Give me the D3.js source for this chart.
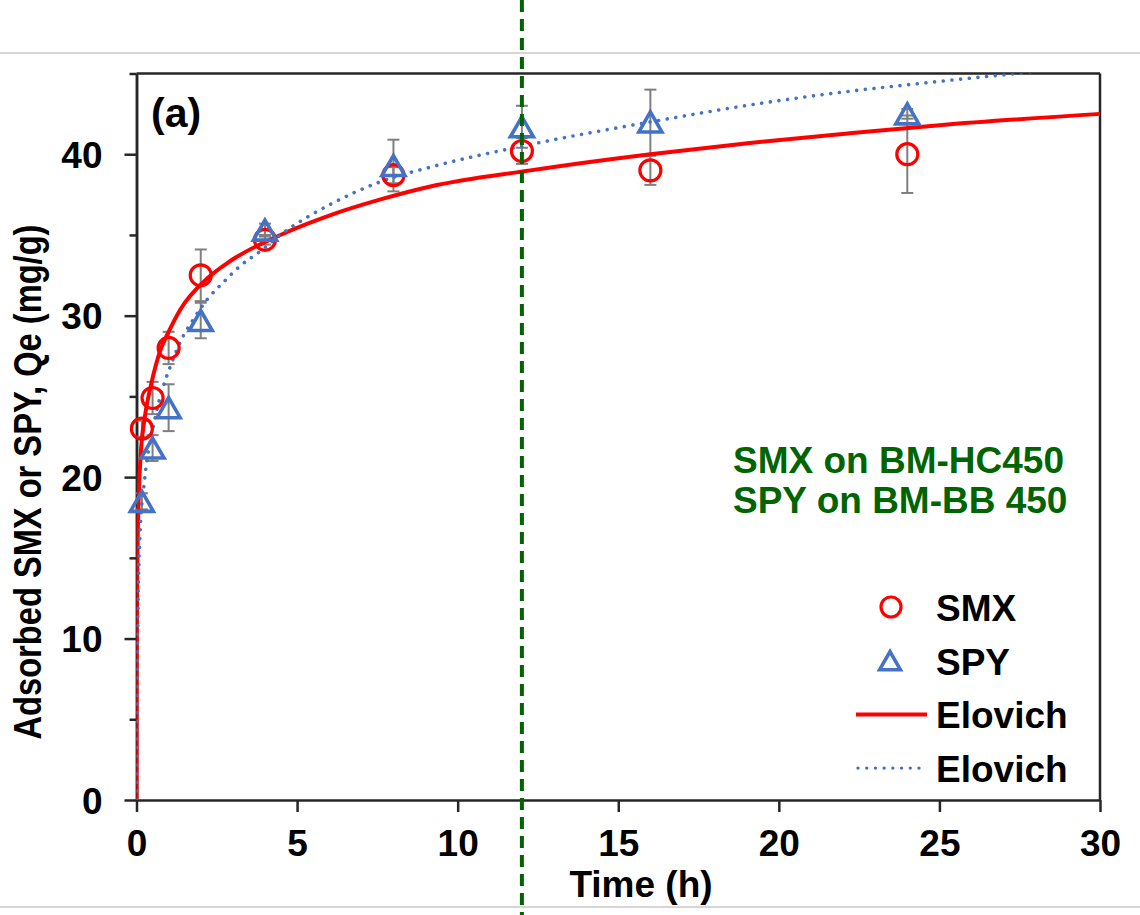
<!DOCTYPE html>
<html>
<head>
<meta charset="utf-8">
<script src="https://cdn.jsdelivr.net/npm/d3@7"></script>
<style>
  body { margin: 0; background: #fff; }
  svg text { font-family: "Liberation Sans", Arial, sans-serif; font-weight: bold; }
</style>
</head>
<body>
<svg id="chart" width="1140" height="915"></svg>
<script>
// sampling times (h)
var timeH = [0.167, 0.5, 1, 2, 4, 8, 12, 16, 24]
var smxQe = [23.0, 24.9, 28.0, 32.5, 34.7, 38.7, 40.2, 39.0, 40.0]
var smxErr = [0.5, 1.0, 1.0, 1.6, 0.3, 0.5, 0.8, 0.9, 2.4]
var spyQe = [18.5, 21.8, 24.3, 29.7, 35.3, 39.3, 41.7, 42.0, 42.5]
var spyErr = [0.5, 0.8, 1.45, 1.1, 0.4, 1.6, 1.3, 2.0, 0.3]

// Elovich fit curves
var smxFitT = [0, 0.003, 0.01, 0.03, 0.06, 0.125, 0.25, 0.44, 0.75, 1, 1.37, 2.2, 2.93, 4.48, 6, 7.6, 9.15, 12.26, 16, 19.1, 22.2, 25, 30]
var smxFitQ = [0, 6, 10.5, 15.2, 18.2, 21.2, 23.6, 25.6, 27.9, 29.0, 30.4, 32.3, 33.4, 35.0, 36.2, 37.2, 38.0, 39.0, 40.0, 40.7, 41.3, 41.8, 42.5]
var spyFitT = [0, 0.005, 0.02, 0.05, 0.11, 0.25, 0.54, 0.85, 1.06, 1.37, 1.78, 2.2, 2.72, 3.24, 3.86, 4.48, 6.04, 7.6, 9.15, 12.26, 16, 19.1, 22.2, 24, 27.4, 30]
var spyFitQ = [0, 3, 7, 12, 16.5, 19.8, 23.3, 25.7, 26.9, 28.4, 29.8, 31.0, 32.1, 33.1, 34.0, 35.0, 36.9, 38.3, 39.2, 40.6, 42.0, 43.05, 43.9, 44.3, 45.0, 45.5]

var xTicks = [0, 5, 10, 15, 20, 25, 30]
var yTicks = [0, 10, 20, 30, 40]
var yMinorTicks = [5, 15, 25, 35, 45]
var markTime = 12
var legendLabels = ["SMX", "SPY", "Elovich", "Elovich"]
var noteLines = ["SMX on BM-HC450", "SPY on BM-BB 450"]

var svg = d3.select("#chart")
var x = d3.scaleLinear().domain([0, 30]).range([136.5, 1100])
var y = d3.scaleLinear().domain([0, 45]).range([800, 73.5])

var red = "#ff0000", blue = "#4472c4", green = "#006400", axisCol = "#262626"

// page rules
svg.append("line").attr("x1", 0).attr("x2", 1140).attr("y1", 53).attr("y2", 53)
    .attr("stroke", "#c8c8c8").attr("stroke-width", 1.5)
svg.append("line").attr("x1", 0).attr("x2", 1140).attr("y1", 907).attr("y2", 907)
    .attr("stroke", "#c8c8c8").attr("stroke-width", 1.5)

svg.append("defs").append("clipPath").attr("id", "plot")
    .append("rect").attr("x", x(0)).attr("y", y(45)).attr("width", x(30) - x(0)).attr("height", y(0) - y(45))

// axes
var gx = svg.append("g").attr("transform", "translate(0," + y(0) + ")")
    .call(d3.axisBottom(x).tickValues(xTicks).tickSize(12).tickPadding(18).tickSizeOuter(0))
var gy = svg.append("g").attr("transform", "translate(" + x(0) + ",0)")
    .call(d3.axisLeft(y).tickValues(yTicks).tickSize(12).tickPadding(22).tickSizeOuter(0))
var gyMinor = svg.append("g").attr("transform", "translate(" + x(0) + ",0)")
    .call(d3.axisLeft(y).tickValues(yMinorTicks).tickSize(7).tickFormat("").tickSizeOuter(0))

;[gx, gy, gyMinor].forEach(function(g) {
    g.select(".domain").attr("stroke", axisCol).attr("stroke-width", 2.5)
    g.selectAll(".tick line").attr("stroke", axisCol).attr("stroke-width", 2.5)
    g.selectAll(".tick text").attr("fill", "#000").style("font-size", "37px")
})
gy.selectAll(".tick text").attr("dy", "0.36em")

// frame top + right
svg.append("line").attr("x1", x(0)).attr("x2", x(30)).attr("y1", y(45)).attr("y2", y(45))
    .attr("stroke", axisCol).attr("stroke-width", 2.5)
svg.append("line").attr("x1", x(30)).attr("x2", x(30)).attr("y1", y(45)).attr("y2", y(0))
    .attr("stroke", axisCol).attr("stroke-width", 2.5)

// axis titles
svg.append("text").attr("x", 641).attr("y", 897).attr("text-anchor", "middle")
    .style("font-size", "37px").text("Time (h)")
svg.append("text").attr("transform", "translate(41,482) rotate(-90)").attr("text-anchor", "middle")
    .attr("textLength", 515).attr("lengthAdjust", "spacingAndGlyphs")
    .style("font-size", "38px").text("Adsorbed SMX or SPY, Qe (mg/g)")

svg.append("text").attr("x", 151).attr("y", 127).style("font-size", "41px").text("(a)")

// error bars
function errorBars(vals, errs) {
    var g = svg.append("g").attr("stroke", "#7f7f7f").attr("stroke-width", 2)
    timeH.forEach(function(t, i) {
        var cx = x(t), lo = y(vals[i] - errs[i]), hi = y(vals[i] + errs[i])
        g.append("line").attr("x1", cx).attr("x2", cx).attr("y1", lo).attr("y2", hi)
        g.append("line").attr("x1", cx - 6).attr("x2", cx + 6).attr("y1", lo).attr("y2", lo)
        g.append("line").attr("x1", cx - 6).attr("x2", cx + 6).attr("y1", hi).attr("y2", hi)
    })
}
errorBars(smxQe, smxErr)
errorBars(spyQe, spyErr)

// fitted curves
var line = d3.line().x(function(d) { return x(d[0]) }).y(function(d) { return y(d[1]) }).curve(d3.curveMonotoneX)
var curves = svg.append("g").attr("clip-path", "url(#plot)")
curves.append("path").datum(d3.zip(smxFitT, smxFitQ)).attr("d", line)
    .attr("fill", "none").attr("stroke", red).attr("stroke-width", 4)
curves.append("path").datum(d3.zip(spyFitT, spyFitQ)).attr("d", line)
    .attr("fill", "none").attr("stroke", blue).attr("stroke-width", 3.6)
    .attr("stroke-dasharray", "0.01 8.7").attr("stroke-linecap", "round")

// markers
function tri(s) {
    return "M0," + (-10 * s) + "L" + (11.5 * s) + "," + (10 * s) + "L" + (-11.5 * s) + "," + (10 * s) + "Z"
}
svg.append("g").selectAll("circle").data(d3.zip(timeH, smxQe)).join("circle")
    .attr("cx", function(d) { return x(d[0]) }).attr("cy", function(d) { return y(d[1]) })
    .attr("r", 10.5).attr("fill", "none").attr("stroke", red).attr("stroke-width", 3.2)
svg.append("g").selectAll("path").data(d3.zip(timeH, spyQe)).join("path")
    .attr("transform", function(d) { return "translate(" + x(d[0]) + "," + y(d[1]) + ")" })
    .attr("d", tri(1)).attr("fill", "none").attr("stroke", blue).attr("stroke-width", 3.6)
    .attr("stroke-linejoin", "miter")

// annotation
svg.append("g").selectAll("text").data(noteLines).join("text")
    .attr("x", 733).attr("y", function(d, i) { return 473 + i * 40 })
    .attr("fill", green).style("font-size", "37px").text(function(d) { return d })

// legend
var leg = svg.append("g").selectAll("g").data(legendLabels).join("g")
    .attr("transform", function(d, i) { return "translate(0," + (607 + i * 53.7) + ")" })
leg.append("text").attr("x", 936).attr("y", 14).style("font-size", "37px").text(function(d) { return d })
leg.each(function(d, i) {
    var g = d3.select(this)
    if (i === 0) g.append("circle").attr("cx", 891).attr("r", 10).attr("fill", "none").attr("stroke", red).attr("stroke-width", 3.2)
    if (i === 1) g.append("path").attr("transform", "translate(890,0)").attr("d", tri(0.9))
        .attr("fill", "none").attr("stroke", blue).attr("stroke-width", 3.6)
    if (i === 2) g.append("line").attr("x1", 856).attr("x2", 927).attr("stroke", red).attr("stroke-width", 4)
    if (i === 3) g.append("line").attr("x1", 858).attr("x2", 927).attr("stroke", blue).attr("stroke-width", 3.4)
        .attr("stroke-dasharray", "0.01 8.7").attr("stroke-linecap", "round")
})

// 12 h marker line
svg.append("line").attr("x1", x(markTime)).attr("x2", x(markTime)).attr("y1", 0).attr("y2", 915)
    .attr("stroke", green).attr("stroke-width", 4).attr("stroke-dasharray", "12 7")
</script>
</body>
</html>
